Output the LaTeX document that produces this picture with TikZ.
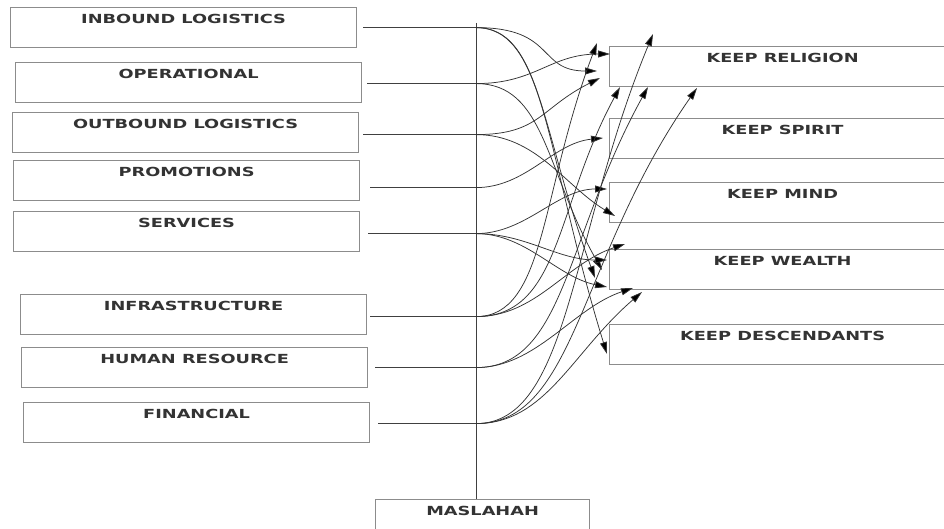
\documentclass[tikz,border=0pt]{standalone}
\usepackage{fontspec}
\setmainfont[FakeStretch=1.42]{DejaVu Sans}
\usetikzlibrary{arrows.meta,calc}

\begin{document}
\begin{tikzpicture}[x=1pt,y=-1pt,
		box/.style={draw=black!45, line width=1.2pt, anchor=north west, minimum width=346pt,
			inner xsep=0pt, inner ysep=6pt, text height=10pt, text depth=18pt,
			font=\bfseries\fontsize{12.5}{13}\selectfont, text=black!80},
		feed/.style={draw=black!75, line width=0.8pt},
		link/.style={draw=black!80, line width=0.75pt, -{Triangle[length=12pt,width=7pt,fill=black]}}
	]
	\useasboundingbox (0,0) rectangle (944,529);

	\node[box] (inb) at (10,7) {INBOUND LOGISTICS};
	\node[box] (ops) at (15,62) {OPERATIONAL};
	\node[box] (outb) at (12,112) {OUTBOUND LOGISTICS};
	\node[box] (promo) at (13,160) {PROMOTIONS};
	\node[box] (serv) at (13,211) {SERVICES};
	\node[box] (infra) at (20,294) {INFRASTRUCTURE};
	\node[box] (hr) at (21,347) {HUMAN RESOURCE};
	\node[box] (fin) at (23,402) {FINANCIAL};

	\node[box] (rel) at (609,46) {KEEP RELIGION};
	\node[box] (spirit) at (609,118) {KEEP SPIRIT};
	\node[box] (mind) at (609,182) {KEEP MIND};
	\node[box] (wealth) at (609,249) {KEEP WEALTH};
	\node[box] (desc) at (609,324) {KEEP DESCENDANTS};

	\node[box, minimum width=214pt] (masl) at (375,499) {MASLAHAH};

	\coordinate (spine) at (476,23);
	\draw[feed] (spine) -- (spine |- masl.north);

	\foreach \b/\g/\dy in {inb/6/0, ops/5/1, outb/4/2, promo/10/7, serv/8/2, infra/3/2, hr/7/0, fin/8/1}{
		\coordinate (\b-a) at ($(\b.east)+(\g,\dy)$);
		\draw[feed] (\b-a) -- (\b-a -| spine) coordinate (\b-s);
	}

	\coordinate (t1) at (597,43);
	\coordinate (t2) at (653,34);
	\coordinate (t3) at (610,54);
	\coordinate (t4) at (597,71);
	\coordinate (t5) at (600,78);
	\coordinate (t6) at (620,87);
	\coordinate (t7) at (648,87);
	\coordinate (t8) at (697,88);
	\coordinate (t9) at (603,138);
	\coordinate (t10) at (607,189);
	\coordinate (t11) at (615,216);
	\coordinate (t12) at (625,244);
	\coordinate (t13) at (607,260);
	\coordinate (t14) at (602,270);
	\coordinate (t15) at (595,278);
	\coordinate (t16) at (607,287);
	\coordinate (t17) at (633,288);
	\coordinate (t18) at (642,292);
	\coordinate (t19) at (607,354);

	\foreach \s/\t/\a/\b/\c in {inb-s/t4/80/60/0, inb-s/t15/64/55/-150, inb-s/t19/70/62/-200,
		ops-s/t3/60/60/0, ops-s/t14/69/57/-100,
		outb-s/t5/64/60/30, outb-s/t11/60/50/-30,
		promo-s/t9/50/50/5,
		serv-s/t10/50/50/0, serv-s/t13/50/50/0, serv-s/t16/50/50/-10,
		infra-s/t1/70/57/150, infra-s/t6/85/65/120, infra-s/t12/60/60/20,
		hr-s/t7/89/83/150, hr-s/t17/60/60/20,
		fin-s/t2/94/83/200, fin-s/t8/100/119/170, fin-s/t18/70/70/60}
		\draw[link] (\s) .. controls +(\a,0) and +(-\b,\c) .. (\t);
\end{tikzpicture}
\end{document}
